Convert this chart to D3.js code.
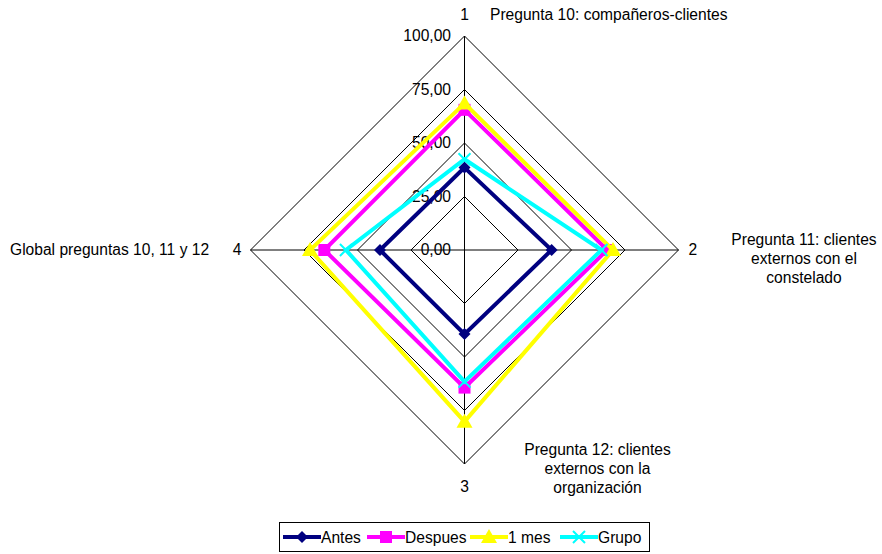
<!DOCTYPE html>
<html>
<head>
<meta charset="utf-8">
<script src="https://cdn.jsdelivr.net/npm/d3@7"></script>
<style>
  html, body { margin: 0; padding: 0; background: #fff; }
  svg { display: block; font-family: "Liberation Sans", Arial, sans-serif; }
</style>
</head>
<body>
<svg id="chart" width="882" height="554"></svg>
<script>
// Radar axes (clockwise from top)
const axes = ["1", "2", "3", "4"];
const ticks = [0, 25, 50, 75, 100];

// Series values per axis
const antes   = [38.5, 40.7, 39.3, 39.5];
const despues = [65.5, 66.7, 64.3, 65.5];
const unMes   = [68.5, 69.4, 80.2, 72.2];
const grupo   = [42.4, 64.0, 61.5, 55.4];

const seriesNames = ["Antes", "Despues", "1 mes", "Grupo"];
const seriesValues = [antes, despues, unMes, grupo];
const seriesColors = ["#000080", "#FF00FF", "#FFFF00", "#00FFFF"];
const seriesMarkers = ["diamond", "square", "triangle", "x"];

const svg = d3.select("#chart");
const cx = 464.5, cy = 250, R = 214;
const FS = 15.6;

const r = d3.scaleLinear().domain([0, 100]).range([0, R]);
const angle = d3.scalePoint().domain(d3.range(axes.length)).range([0, 2 * Math.PI * (axes.length - 1) / axes.length]);

function pt(i, v) {
  const a = angle(i);
  return [cx + r(v) * Math.sin(a), cy - r(v) * Math.cos(a)];
}

const g = svg.append("g");

// Grid rings
ticks.filter(t => t > 0).forEach(t => {
  const pts = axes.map((_, i) => pt(i, t));
  g.append("path")
    .attr("d", d3.line()(pts) + "Z")
    .attr("fill", "none")
    .attr("stroke", "#000")
    .attr("stroke-width", 1);
});

// Spokes
axes.forEach((_, i) => {
  const [x, y] = pt(i, 100);
  g.append("line")
    .attr("x1", cx).attr("y1", cy).attr("x2", x).attr("y2", y)
    .attr("stroke", "#000").attr("stroke-width", 1);
});

// Value labels along the top spoke
ticks.forEach(t => {
  const [x, y] = pt(0, t);
  g.append("text")
    .attr("x", x - 13.5).attr("y", y + 5)
    .attr("text-anchor", "end")
    .attr("font-size", FS)
    .attr("fill", "#000")
    .text(d3.format(".2f")(t).replace(".", ","));
});

// Axis numbers
const numOffset = [[0, -16, "middle"], [10, 5, "start"], [0, 28, "middle"], [-9, 5, "end"]];
axes.forEach((name, i) => {
  const [x, y] = pt(i, 100);
  const o = numOffset[i];
  g.append("text")
    .attr("x", x + o[0]).attr("y", y + o[1])
    .attr("text-anchor", o[2])
    .attr("font-size", FS)
    .text(name);
});

// Axis descriptions
const descs = [
  { lines: ["Pregunta 10: compañeros-clientes"], x: 490, y: 20, anchor: "start" },
  { lines: ["Pregunta 11: clientes", "externos con el", "constelado"], x: 804, y: 245, anchor: "middle" },
  { lines: ["Pregunta 12: clientes", "externos con la", "organización"], x: 597.5, y: 455, anchor: "middle" },
  { lines: ["Global preguntas 10, 11 y 12"], x: 10, y: 255, anchor: "start" }
];
descs.forEach(d => {
  const t = g.append("text")
    .attr("x", d.x).attr("y", d.y)
    .attr("text-anchor", d.anchor)
    .attr("font-size", FS);
  d.lines.forEach((l, k) => {
    t.append("tspan").attr("x", d.x).attr("dy", k === 0 ? 0 : 19).text(l);
  });
});

// Marker drawing
function marker(sel, type, color, x, y) {
  if (type === "diamond") {
    sel.append("path").attr("d", `M${x},${y-6}L${x+6},${y}L${x},${y+6}L${x-6},${y}Z`).attr("fill", color);
  } else if (type === "square") {
    sel.append("rect").attr("x", x - 6).attr("y", y - 6).attr("width", 12).attr("height", 12).attr("fill", color);
  } else if (type === "triangle") {
    sel.append("path").attr("d", `M${x},${y-8}L${x+8},${y+6}L${x-8},${y+6}Z`).attr("fill", color);
  } else if (type === "x") {
    sel.append("path").attr("d", `M${x-6},${y-6}L${x+6},${y+6}M${x+6},${y-6}L${x-6},${y+6}`)
      .attr("stroke", color).attr("stroke-width", 2).attr("fill", "none");
  }
}

// Series
seriesValues.forEach((vals, s) => {
  const sg = g.append("g");
  const pts = vals.map((v, i) => pt(i, v));
  sg.append("path")
    .attr("d", d3.line()(pts) + "Z")
    .attr("fill", "none")
    .attr("stroke", seriesColors[s])
    .attr("stroke-width", 4)
    .attr("stroke-linejoin", "miter");
  pts.forEach(([x, y]) => marker(sg, seriesMarkers[s], seriesColors[s], x, y));
});

// Legend
const lg = svg.append("g");
lg.append("rect").attr("x", 279.5).attr("y", 522.5).attr("width", 370).attr("height", 29)
  .attr("fill", "#fff").attr("stroke", "#000").attr("stroke-width", 1);
const legX = [283, 367, 470, 560];
seriesNames.forEach((name, s) => {
  const x0 = legX[s], y0 = 537;
  lg.append("line").attr("x1", x0).attr("y1", y0).attr("x2", x0 + 38).attr("y2", y0)
    .attr("stroke", seriesColors[s]).attr("stroke-width", 4);
  const m = lg.append("g");
  marker(m, seriesMarkers[s], seriesColors[s], x0 + 19, y0);
  lg.append("text").attr("x", x0 + 38).attr("y", y0 + 6).attr("font-size", FS).text(name);
});
</script>
</body>
</html>
